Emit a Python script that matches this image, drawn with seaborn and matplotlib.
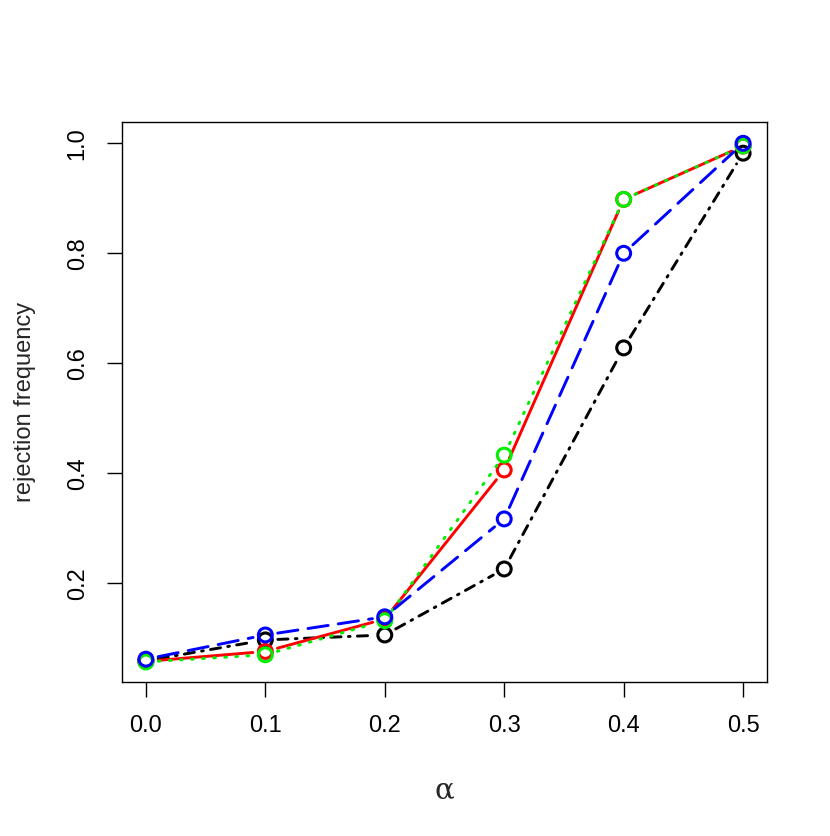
import matplotlib
matplotlib.use("Agg")
import matplotlib.pyplot as plt
import seaborn as sns
import pandas as pd

# alpha grid and rejection frequencies
alpha = [0.0, 0.1, 0.2, 0.3, 0.4, 0.5]
freq_black = [0.059, 0.097, 0.106, 0.226, 0.628, 0.982]
freq_red = [0.058, 0.076, 0.135, 0.406, 0.898, 0.995]
freq_green = [0.057, 0.070, 0.132, 0.433, 0.898, 0.995]
freq_blue = [0.062, 0.106, 0.139, 0.317, 0.800, 1.000]

x_ticks = [0.0, 0.1, 0.2, 0.3, 0.4, 0.5]
y_ticks = [0.2, 0.4, 0.6, 0.8, 1.0]

sns.set_style("white")
plt.rcParams['font.family'] = ['Liberation Sans', 'DejaVu Sans']

fig = plt.figure(figsize=(8.3, 8.36), dpi=100)
ax = fig.add_axes([122 / 830, 1 - 682 / 836, 645 / 830, 560 / 836])

# (values, colour, dash pattern) in R draw order
series = [
    (freq_black, 'black', (3.5, 2.5, 0.6, 2.5)),
    (freq_red, 'red', None),
    (freq_green, '#00ee00', (0.6, 3.2)),
    (freq_blue, 'blue', (7, 3.5)),
]

z = 2
for vals, col, dash in series:
    df = pd.DataFrame({'alpha': alpha, 'freq': vals})
    # R type="b": segments stop short of the points
    for i in range(len(alpha) - 1):
        ls = '-' if dash is None else (0, dash)
        ax.annotate('', xy=(alpha[i + 1], vals[i + 1]), xytext=(alpha[i], vals[i]),
                    arrowprops=dict(arrowstyle='-', color=col, lw=2.1, linestyle=ls,
                                    shrinkA=9, shrinkB=9),
                    zorder=z)
    sns.scatterplot(data=df, x='alpha', y='freq', ax=ax, s=100, marker='o',
                    facecolor='none', edgecolor=col, linewidth=2.2, zorder=z + 1)
    z += 2

ax.set_xlim(-0.02, 0.52)
ax.set_ylim(0.0205, 1.0387)
ax.set_xticks(x_ticks)
ax.set_xticklabels([f'{t:.1f}' for t in x_ticks])
ax.set_yticks(y_ticks)
ax.set_yticklabels([f'{t:.1f}' for t in y_ticks], rotation=90, va='center')
ax.tick_params(axis='both', direction='out', length=11, width=1, color='black',
               labelsize=17, labelcolor='black', bottom=True, left=True)
ax.tick_params(axis='x', pad=13)
ax.tick_params(axis='y', pad=13)
for sp in ax.spines.values():
    sp.set_visible(True)
    sp.set_color('black')
    sp.set_linewidth(1)

ax.set_xlabel('α', fontsize=21, family=['DejaVu Serif'], labelpad=28)
ax.set_ylabel('rejection frequency', fontsize=17, labelpad=22)

fig.savefig('out.png', dpi=100)
